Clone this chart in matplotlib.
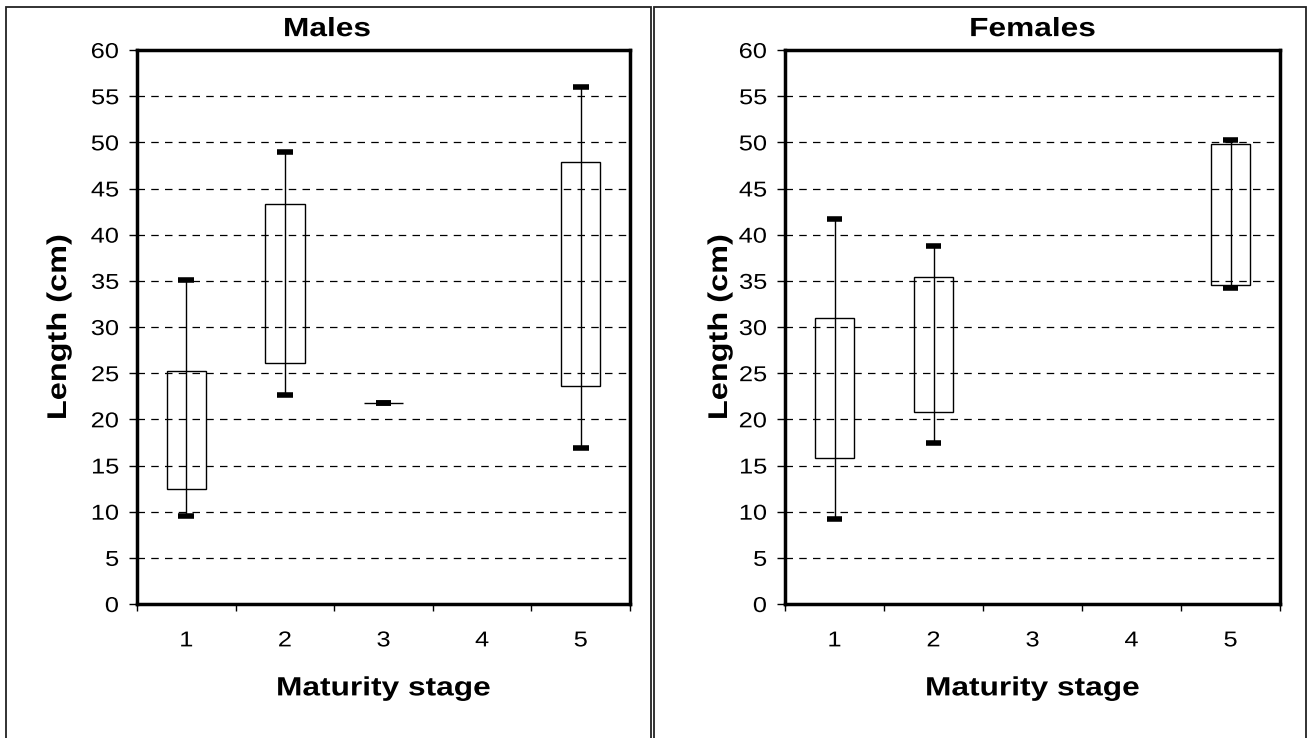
import matplotlib
matplotlib.use("Agg")
import matplotlib.pyplot as plt
from matplotlib.patches import Rectangle
from matplotlib.patheffects import AbstractPathEffect
from matplotlib.transforms import Affine2D

plt.rcParams['font.family'] = ['Liberation Sans', 'DejaVu Sans']

stages = [1, 2, 3, 4, 5]
stage_labels = ["1", "2", "3", "4", "5"]

# Males: min, q1, q3, max (None = no data)
males_min = [9.5, 22.6, 21.8, None, 16.9]
males_q1 = [12.5, 26.1, 21.8, None, 23.6]
males_q3 = [25.2, 43.3, 21.8, None, 47.85]
males_max = [35.1, 48.9, 21.8, None, 56.0]

# Females
females_min = [9.2, 17.4, None, None, 34.2]
females_q1 = [15.8, 20.8, None, None, 34.5]
females_q3 = [30.95, 35.45, None, None, 49.8]
females_max = [41.7, 38.75, None, None, 50.2]

yticks = list(range(0, 61, 5))


class HStretch(AbstractPathEffect):
    """Stretch text glyphs along the text direction."""

    def __init__(self, sx=1.2, anchor='center'):
        super().__init__()
        self.sx = sx
        self.anchor = anchor

    def draw_path(self, renderer, gc, tpath, affine, rgbFace=None):
        ext = tpath.get_extents()
        if self.anchor == 'center':
            cx = (ext.x0 + ext.x1) / 2
        elif self.anchor == 'right':
            cx = ext.x1
        else:
            cx = ext.x0
        t = Affine2D().translate(-cx, 0).scale(self.sx, 1).translate(cx, 0) + affine
        renderer.draw_path(gc, tpath, t, rgbFace)


W, H = 1309, 738
fig = plt.figure(figsize=(W / 100, H / 100), dpi=100)

# panel frames
for (x0, x1) in [(6, 651), (654, 1306)]:
    fig.patches.append(Rectangle((x0 / W, -0.01), (x1 - x0) / W, (H - 6.5) / H + 0.01,
                                 transform=fig.transFigure, fill=False,
                                 edgecolor='#222222', linewidth=1.3))


def panel(left_px, right_px, title, title_x, ylab_x, mins, q1s, q3s, maxs):
    top_px, bot_px = 50, 604
    ax = fig.add_axes([left_px / W, (H - bot_px) / H, (right_px - left_px) / W,
                       (bot_px - top_px) / H])
    ax.set_xlim(0.5, 5.5)
    ax.set_ylim(0, 60)
    ax.set_yticks(yticks)
    ax.set_yticklabels([str(v) for v in yticks], fontsize=15.5)
    ax.tick_params(axis='y', direction='out', length=6, width=1, pad=7)
    for lab in ax.get_yticklabels():
        lab.set_path_effects([HStretch(1.18, 'right')])
    ax.set_xticks(stages)
    ax.set_xticklabels(stage_labels, fontsize=15.5)
    for lab in ax.get_xticklabels():
        lab.set_path_effects([HStretch(1.18, 'center')])
    ax.tick_params(axis='x', which='major', length=0, pad=19)
    ax.set_xticks([s - 0.5 for s in stages] + [5.5], minor=True)
    ax.tick_params(axis='x', which='minor', direction='out', length=5, width=1)
    for sp in ax.spines.values():
        sp.set_linewidth(2.5)
        sp.set_color('black')
    for v in yticks[1:-1]:
        ax.axhline(v, color='black', linestyle=(0, (6, 5)), linewidth=0.9, zorder=1)
    box_w = 0.4
    cap_w = 0.16
    for s, mn, a, b, mx in zip(stages, mins, q1s, q3s, maxs):
        if mn is None:
            continue
        ax.plot([s, s], [mn, mx], color='black', linewidth=1.0, zorder=3)
        ax.add_patch(Rectangle((s - box_w / 2, a), box_w, b - a, facecolor='none',
                               edgecolor='black', linewidth=1.0, zorder=3))
        for v in (mn, mx):
            ax.plot([s - cap_w / 2, s + cap_w / 2], [v, v], color='black',
                    linewidth=4, solid_capstyle='butt', zorder=4)
    t = ax.set_title(title, fontsize=19, fontweight='bold', pad=10, x=title_x)
    t.set_path_effects([HStretch(1.2, 'center')])
    xl = ax.set_xlabel("Maturity stage", fontsize=19, fontweight='bold', labelpad=18)
    xl.set_path_effects([HStretch(1.2, 'center')])
    yl = ax.set_ylabel("Length (cm)", fontsize=19.5, fontweight='bold')
    yl.set_path_effects([HStretch(1.2, 'center')])
    ax.yaxis.set_label_coords(ylab_x, 0.5)
    return ax


panel(137, 630, "Males", (327 - 137) / 493, (72 - 137) / 493,
      males_min, males_q1, males_q3, males_max)
panel(785, 1280, "Females", 0.5, (733 - 785) / 495,
      females_min, females_q1, females_q3, females_max)

fig.savefig("out.png", dpi=100, facecolor='white')
